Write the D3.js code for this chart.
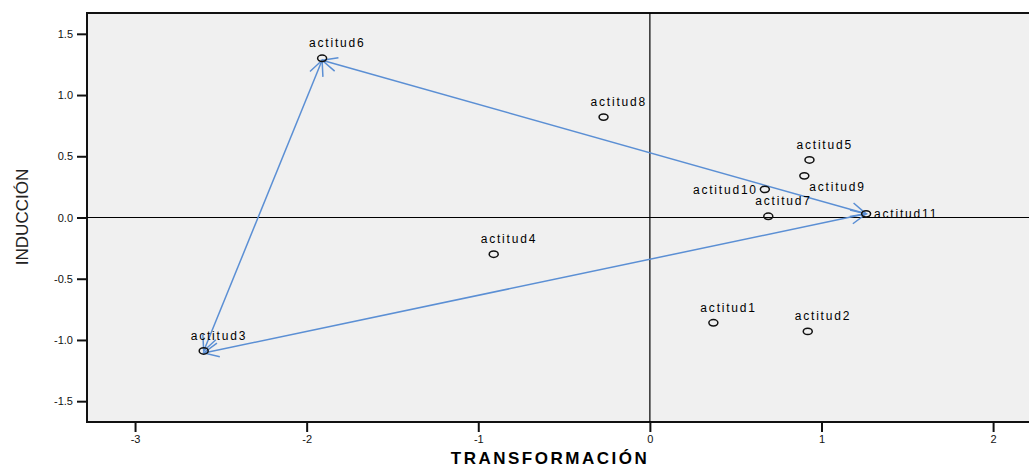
<!DOCTYPE html>
<html lang="en">
<head>
  <meta charset="utf-8">
  <title>Actitudes</title>
  <script src="https://d3js.org/d3.v7.min.js"></script>
  <style>
  body { margin: 0; background: #fff; }
  svg { display: block; font-family: "Liberation Sans", Arial, sans-serif; }
  .tick text { font-size: 11px; fill: #111; }
  .pt-label { font-size: 12px; letter-spacing: 1.8px; fill: #000; }
  </style>
</head>
<body>
<script>

// item names and their two coordinates
var names = ["actitud1", "actitud2", "actitud3", "actitud4", "actitud5", "actitud6",
             "actitud7", "actitud8", "actitud9", "actitud10", "actitud11"];
var transformacion = [0.37, 0.92, -2.60, -0.91, 0.93, -1.91, 0.69, -0.27, 0.90, 0.67, 1.26];
var induccion = [-0.86, -0.93, -1.09, -0.30, 0.47, 1.30, 0.01, 0.82, 0.34, 0.23, 0.03];

// double-headed arrows between items
var arrows = [["actitud6", "actitud11"], ["actitud6", "actitud3"], ["actitud3", "actitud11"]];

var xTicks = [-3, -2, -1, 0, 1, 2];
var yTicks = [-1.5, -1.0, -0.5, 0.0, 0.5, 1.0, 1.5];

var width = 1029, height = 468;
var plotLeft = 87, plotTop = 13, plotRight = 1036, plotBottom = 422;

var x = d3.scaleLinear().domain([-3.28, 2.25]).range([plotLeft, plotRight]);
var y = d3.scaleLinear().domain([-1.67, 1.67]).range([plotBottom, plotTop]);

var svg = d3.select("body").append("svg")
    .attr("width", width)
    .attr("height", height);

// arrow head
svg.append("defs").append("marker")
    .attr("id", "head")
    .attr("viewBox", "-18 -9 20 18")
    .attr("refX", 0)
    .attr("refY", 0)
    .attr("markerWidth", 20)
    .attr("markerHeight", 18)
    .attr("markerUnits", "userSpaceOnUse")
    .attr("orient", "auto-start-reverse")
  .append("path")
    .attr("d", "M-15,-7L0,0L-15,7")
    .attr("fill", "none")
    .attr("stroke", "#5b8fd4")
    .attr("stroke-width", 1.5);

// plot area
svg.append("rect")
    .attr("x", plotLeft)
    .attr("y", plotTop)
    .attr("width", plotRight - plotLeft)
    .attr("height", plotBottom - plotTop)
    .attr("fill", "#f0f0f0")
    .attr("stroke", "#111")
    .attr("stroke-width", 2);

// reference lines
svg.append("line")
    .attr("x1", x(0)).attr("x2", x(0))
    .attr("y1", plotTop).attr("y2", plotBottom)
    .attr("stroke", "#000").attr("stroke-width", 1.2);
svg.append("line")
    .attr("x1", plotLeft).attr("x2", plotRight)
    .attr("y1", y(0)).attr("y2", y(0))
    .attr("stroke", "#000").attr("stroke-width", 1.2);

// axes (plain hyphen for negatives, like the original)
var hyphen = function(f) { return function(d) { return f(d).replace("\u2212", "-"); }; };
var xAxis = svg.append("g")
    .attr("transform", "translate(0," + plotBottom + ")")
    .call(d3.axisBottom(x).tickValues(xTicks).tickSize(10).tickPadding(3).tickFormat(hyphen(d3.format("d"))));
var yAxis = svg.append("g")
    .attr("transform", "translate(" + plotLeft + ",0)")
    .call(d3.axisLeft(y).tickValues(yTicks).tickSize(10).tickPadding(4).tickFormat(hyphen(d3.format(".1f"))));
[xAxis, yAxis].forEach(function(g) {
  g.select(".domain").remove();
  g.selectAll(".tick line").attr("stroke", "#111").attr("stroke-width", 2);
});

var points = names.map(function(n, i) {
  return {name: n, tx: transformacion[i], ind: induccion[i]};
});
var byName = {};
points.forEach(function(p) { byName[p.name] = p; });

// arrows
svg.append("g").selectAll("line")
    .data(arrows)
  .enter().append("line")
    .attr("x1", function(d) { return x(byName[d[0]].tx); })
    .attr("y1", function(d) { return y(byName[d[0]].ind) + 2; })
    .attr("x2", function(d) { return x(byName[d[1]].tx); })
    .attr("y2", function(d) { return y(byName[d[1]].ind); })
    .attr("stroke", "#5b8fd4")
    .attr("stroke-width", 1.5)
    .attr("marker-start", "url(#head)")
    .attr("marker-end", "url(#head)");

// markers
svg.append("g").selectAll("ellipse")
    .data(points)
  .enter().append("ellipse")
    .attr("cx", function(d) { return x(d.tx); })
    .attr("cy", function(d) { return y(d.ind); })
    .attr("rx", 4.5)
    .attr("ry", 3.2)
    .attr("fill", "none")
    .attr("stroke", "#111")
    .attr("stroke-width", 1.5);

// label placement: default above, a few moved aside
var labelPlace = {
  "actitud9": {dx: 5, dy: 15, anchor: "start"},
  "actitud10": {dx: -7, dy: 5, anchor: "end"},
  "actitud11": {dx: 8, dy: 4, anchor: "start"}
};

svg.append("g").selectAll("text")
    .data(points)
  .enter().append("text")
    .attr("class", "pt-label")
    .attr("x", function(d) { return x(d.tx) + (labelPlace[d.name] ? labelPlace[d.name].dx : -13); })
    .attr("y", function(d) { return y(d.ind) + (labelPlace[d.name] ? labelPlace[d.name].dy : -11); })
    .attr("text-anchor", function(d) { return labelPlace[d.name] ? labelPlace[d.name].anchor : "start"; })
    .text(function(d) { return d.name; });

// axis titles
svg.append("text")
    .attr("x", 550)
    .attr("y", 464)
    .attr("text-anchor", "middle")
    .style("font-size", "17px")
    .style("font-weight", "bold")
    .style("letter-spacing", "2.5px")
    .text("TRANSFORMACIÓN");

svg.append("text")
    .attr("transform", "translate(28,217) rotate(-90)")
    .attr("text-anchor", "middle")
    .style("font-size", "17px")
    .style("fill", "#222")
    .text("INDUCCIÓN");

</script>
</body>
</html>
